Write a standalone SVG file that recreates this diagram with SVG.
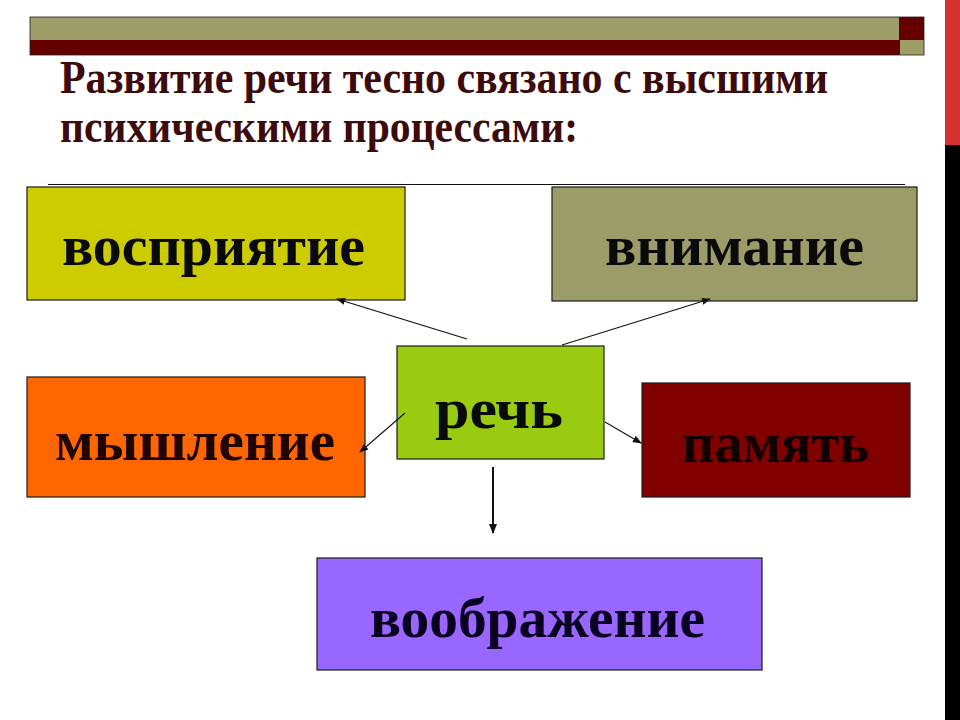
<svg xmlns="http://www.w3.org/2000/svg" width="960" height="720" viewBox="0 0 960 720">
<style>
.box{stroke:#1a1a1a;stroke-width:1.2}
.lbl{font-family:"Liberation Serif","Times New Roman",serif;font-weight:bold;font-size:58px;fill:#0a0a0a}
.title{font-family:"Liberation Serif","Times New Roman",serif;font-weight:bold;font-size:46px;fill:#3d0b0b}
.con{stroke:#111;stroke-width:1.1;fill:none;marker-end:url(#ah)}
</style>
<defs>
<marker id="ah" viewBox="0 0 10 10" refX="9" refY="5" markerWidth="9" markerHeight="9" markerUnits="userSpaceOnUse" orient="auto">
<path d="M0,1 L10,5 L0,9 z" fill="#111"/>
</marker>
<marker id="ah2" viewBox="0 0 10 10" refX="9" refY="5" markerWidth="10" markerHeight="10" markerUnits="userSpaceOnUse" orient="auto">
<path d="M0,1 L10,5 L0,9 z" fill="#111"/>
</marker>
</defs>
<rect width="960" height="720" fill="#ffffff"/>
<g id="topbar">
<rect x="30" y="17" width="869" height="23" fill="#9d9d68"/>
<rect x="30" y="40" width="870" height="15" fill="#660000"/>
<rect x="899" y="17" width="25" height="23" fill="#660000"/>
<rect x="900" y="40" width="24" height="15" fill="#9d9d68"/>
<rect x="30" y="17" width="894" height="38" fill="none" stroke="#222" stroke-width="0.8"/>
</g>
<g id="sidestrip">
<rect x="945" y="0" width="15" height="145" fill="#d63232"/>
<rect x="945" y="145" width="15" height="575" fill="#000"/>
</g>
<g id="title">
<text class="title" x="60" y="93" textLength="768" lengthAdjust="spacingAndGlyphs">Развитие речи тесно связано с высшими</text>
<text class="title" x="60" y="142" textLength="518" lengthAdjust="spacingAndGlyphs">психическими процессами:</text>
</g>
<line x1="48" y1="184.5" x2="905" y2="184.5" stroke="#111" stroke-width="1.2"/>
<g id="vospriyatie">
<rect class="box" x="27" y="187" width="378" height="113" fill="#cccc00"/>
<text class="lbl" x="62" y="265" textLength="303" lengthAdjust="spacingAndGlyphs">восприятие</text>
</g>
<g id="vnimanie">
<rect class="box" x="552" y="187" width="365" height="114" fill="#9c9c68"/>
<text class="lbl" x="605" y="265" textLength="259" lengthAdjust="spacingAndGlyphs">внимание</text>
</g>
<g id="rech">
<rect class="box" x="397" y="346" width="207" height="113" fill="#99cc11"/>
<text class="lbl" x="435" y="428" font-size="64" textLength="128" lengthAdjust="spacingAndGlyphs">речь</text>
</g>
<g id="myshlenie">
<rect class="box" x="27" y="377" width="338" height="120" fill="#ff6600" stroke="#3a0a00"/>
<text class="lbl" x="55" y="460" textLength="280" lengthAdjust="spacingAndGlyphs" style="fill:#1e0500">мышление</text>
</g>
<g id="pamyat">
<rect class="box" x="642" y="383" width="268" height="114" fill="#800000" stroke="#3a0000"/>
<text class="lbl" x="682" y="462" textLength="187" lengthAdjust="spacingAndGlyphs" style="fill:#120000">память</text>
</g>
<g id="voobrazhenie">
<rect class="box" x="317" y="558" width="445" height="112" fill="#9966ff" stroke="#0a0030"/>
<text class="lbl" x="370" y="637" textLength="335" lengthAdjust="spacingAndGlyphs" style="fill:#0a0020">воображение</text>
</g>
<g id="connectors">
<line class="con" x1="467" y1="339" x2="337" y2="299"/>
<line class="con" x1="562" y1="345" x2="710" y2="299"/>
<line class="con" x1="405" y1="413" x2="360" y2="452"/>
<line class="con" x1="605" y1="422" x2="641" y2="443"/>
<line x1="493" y1="467" x2="493" y2="533" stroke="#111" stroke-width="2" marker-end="url(#ah2)"/>
</g>
</svg>
